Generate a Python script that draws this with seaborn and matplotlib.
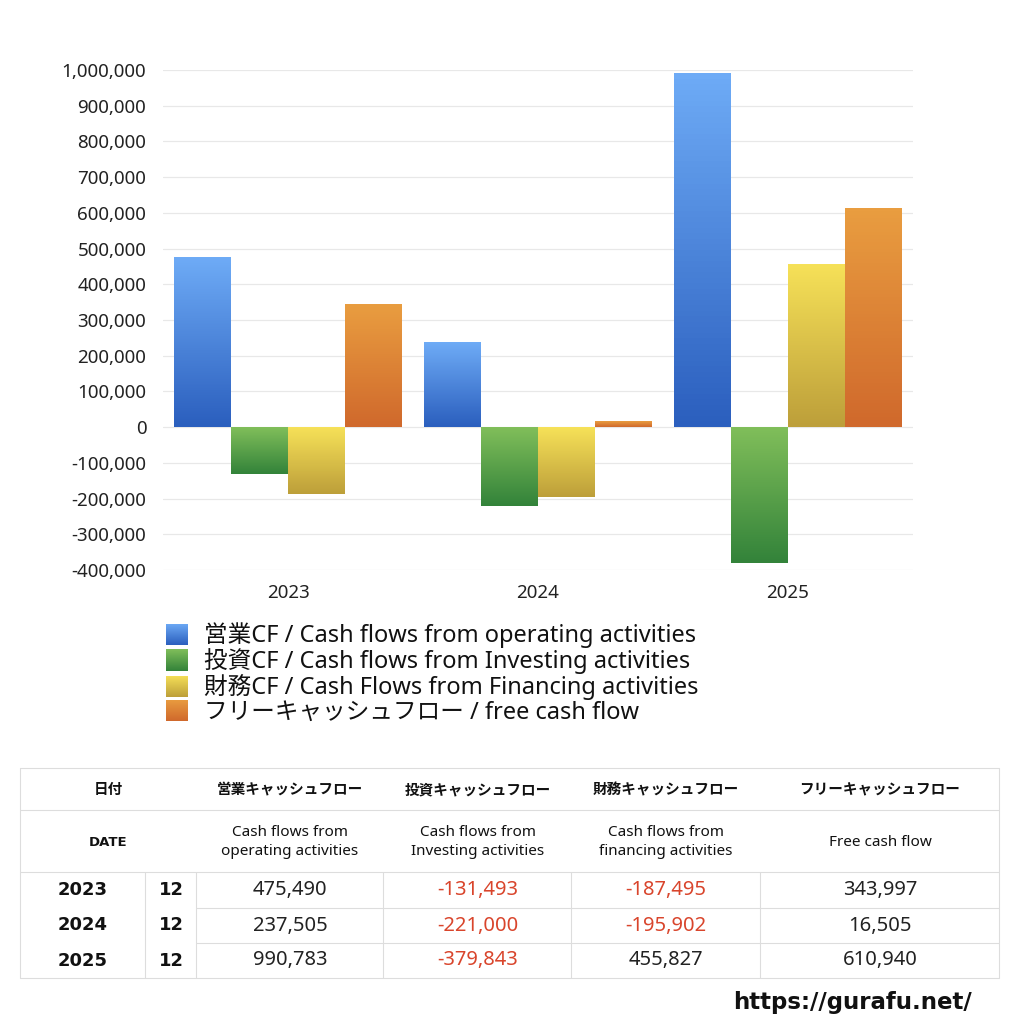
import matplotlib
matplotlib.use("Agg")
import matplotlib.pyplot as plt
import matplotlib.ticker as mticker
from matplotlib.colors import LinearSegmentedColormap
from matplotlib.patches import Patch
import numpy as np
import pandas as pd
import seaborn as sns

# data
years = ["2023", "2024", "2025"]
months = ["12", "12", "12"]
operating = [475490, 237505, 990783]
investing = [-131493, -221000, -379843]
financing = [-187495, -195902, 455827]
free_cf = [343997, 16505, 610940]

series_names = [
    "営業CF / Cash flows from operating activities",
    "投資CF / Cash flows from Investing activities",
    "財務CF / Cash Flows from Financing activities",
    "フリーキャッシュフロー / free cash flow",
]
table_head_jp = ["営業キャッシュフロー", "投資キャッシュフロー", "財務キャッシュフロー", "フリーキャッシュフロー"]
table_head_en = ["Cash flows from\noperating activities", "Cash flows from\nInvesting activities",
                 "Cash flows from\nfinancing activities", "Free cash flow"]

# gradient (top, bottom) per series
grad = [("#6eabf6", "#2b5fbe"), ("#80be5a", "#33833a"), ("#f6e158", "#bd9f3a"), ("#e99d40", "#d0692c")]
mid = ["#4a86dc", "#5aa04a", "#dcc048", "#dd8436"]

df = pd.DataFrame({
    "year": years * 4,
    "value": operating + investing + financing + free_cf,
    "series": [s for s in series_names for _ in years],
})

sns.set_theme(style="white")
plt.rcParams["font.family"] = ["Noto Sans", "Noto Sans CJK JP", "DejaVu Sans"]
BOLD = ["DejaVu Sans", "Noto Sans CJK JP"]


def grad_img(target_ax, top, bot, extent):
    cmap = LinearSegmentedColormap.from_list("g", [top, bot])
    target_ax.imshow(np.linspace(0, 1, 64).reshape(-1, 1), cmap=cmap, aspect="auto",
                     extent=extent, origin="upper", zorder=2)


fig = plt.figure(figsize=(10.24, 10.24), dpi=100)
ax = fig.add_axes([163 / 1024, 1 - 570 / 1024, 750 / 1024, 500 / 1024])
sns.barplot(data=df, x="year", y="value", hue="series", hue_order=series_names,
            palette=mid, width=0.91, legend=False, ax=ax, errorbar=None, saturation=1)

ax.yaxis.set_major_locator(mticker.MultipleLocator(100000))
ax.yaxis.set_major_formatter(mticker.FuncFormatter(lambda v, p: f"{int(v):,}"))
ax.grid(axis="y", color="#e8e8e8", lw=0.9)
ax.set_axisbelow(True)
for s in ax.spines.values():
    s.set_visible(False)
ax.set_xlabel("")
ax.set_ylabel("")
ax.tick_params(axis="both", length=0, labelsize=13.5, colors="#222222")
ax.tick_params(axis="y", pad=12)
ax.tick_params(axis="x", pad=10)

# gradient fill on bars
for cont, (top, bot) in zip(ax.containers, grad):
    for bar in cont:
        x0, y0 = bar.get_x(), bar.get_y()
        w, h = bar.get_width(), bar.get_height()
        bar.set_facecolor("none")
        bar.set_edgecolor("none")
        grad_img(ax, top, bot, (x0, x0 + w, min(y0, y0 + h), max(y0, y0 + h)))
ax.set_xlim(-0.5, 2.5)
ax.set_ylim(-400000, 1000000)

# legend
handles = [Patch(facecolor=c, edgecolor="none") for c in mid]
leg = fig.legend(handles, series_names, loc="upper left", bbox_to_anchor=(157 / 1024, 1 - 613 / 1024),
                 frameon=False, fontsize=17, handlelength=0.9, handleheight=1.0,
                 handletextpad=0.7, labelspacing=0.0, borderaxespad=0)
for t in leg.get_texts():
    t.set_color("#111111")

# gradient legend keys
fig.canvas.draw()
inv = fig.transFigure.inverted()
for hnd, (top, bot) in zip(leg.legend_handles, grad):
    bb = hnd.get_window_extent().transformed(inv)
    hnd.set_visible(False)
    kax = fig.add_axes([bb.x0, bb.y0, bb.width, bb.height])
    kax.axis("off")
    grad_img(kax, top, bot, (0, 1, 0, 1))

# table drawn on an overlay in pixel coordinates
ov = fig.add_axes([0, 0, 1, 1])
ov.set_xlim(0, 1024)
ov.set_ylim(1024, 0)
ov.axis("off")
line_c = "#dddddd"
L, R = 20, 999
col_x = [20, 145, 196, 383, 571, 760, 999]
row_y = [768, 810, 872, 908, 943, 978]
ov.plot([L, R, R, L, L], [768, 768, 978, 978, 768], color=line_c, lw=0.8)
ov.plot([L, R], [810, 810], color=line_c, lw=0.8)
ov.plot([L, R], [872, 872], color=line_c, lw=0.8)
for y in row_y[3:5]:
    ov.plot([196, R], [y, y], color=line_c, lw=0.8)
for x in col_x[1:6]:
    ov.plot([x, x], [872, 978], color=line_c, lw=0.8)

ov.text(108, 789, "日付", ha="center", va="center", fontsize=10.5, fontweight="bold",
        family=["Noto Sans CJK JP"], color="#111111")
ov.text(108, 842, "DATE", ha="center", va="center", fontsize=9.5, fontweight="bold",
        family=BOLD, color="#111111")
centers = [290, 478, 666, 880]
for cx, jp, en in zip(centers, table_head_jp, table_head_en):
    ov.text(cx, 789, jp, ha="center", va="center", fontsize=10.5, fontweight="bold",
            family=["Noto Sans CJK JP"], color="#111111")
    ov.text(cx, 842, en, ha="center", va="center", fontsize=11, color="#111111", linespacing=1.3)

cols = [operating, investing, financing, free_cf]
for i, (yr, mo) in enumerate(zip(years, months)):
    cy = (row_y[2 + i] + row_y[3 + i]) / 2
    ov.text(83, cy, yr, ha="center", va="center", fontsize=13, fontweight="bold",
            family=BOLD, color="#111111")
    ov.text(171, cy, mo, ha="center", va="center", fontsize=13, fontweight="bold",
            family=BOLD, color="#111111")
    for cx, col in zip(centers, cols):
        v = col[i]
        ov.text(cx, cy, f"{v:,}", ha="center", va="center", fontsize=14.5,
                color="#d9452c" if v < 0 else "#222222")

ov.text(972, 1003, "https://gurafu.net/", ha="right", va="center", fontsize=16.5,
        fontweight="bold", family=BOLD, color="#111111")

fig.savefig("out.png", dpi=100, facecolor="white")
